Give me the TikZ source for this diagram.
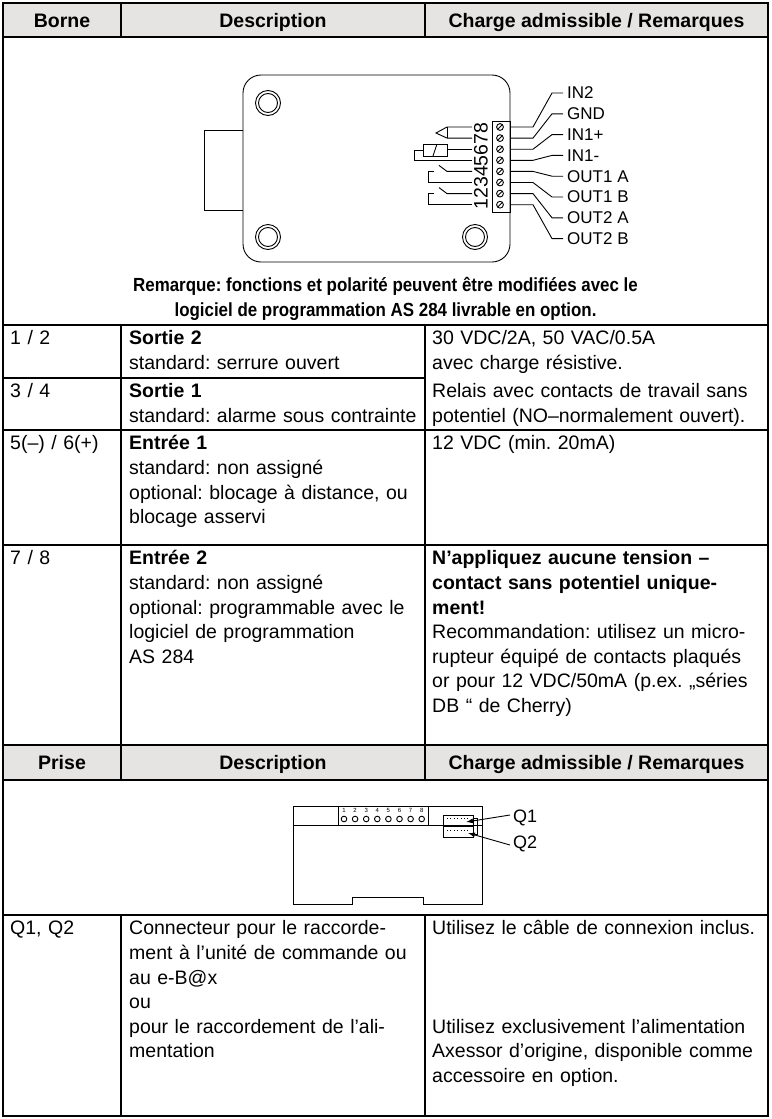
\documentclass[tikz,border=0pt]{standalone}
\usepackage{fontspec}
\setmainfont{Liberation Sans}
\usepackage{xcolor}
\usetikzlibrary{positioning, arrows.meta}
\definecolor{headgray}{RGB}{230,228,226}
\frenchspacing

\begin{document}
\begin{tikzpicture}[x=1pt, y=-1pt,
  gridline/.style={line width=2.6pt},
  thinline/.style={line width=0.9pt},
  celltext/.style={anchor=north west, inner sep=0pt, align=left, text width=#1, yshift=-2.5pt,
    font=\fontsize{19.5}{24.6}\selectfont, execute at begin node=\strut},
  celltext/.default=300pt,
  headtext/.style={anchor=base, inner sep=0pt, font=\fontsize{19.5}{24}\selectfont\bfseries},
  pinlabel/.style={anchor=west, inner sep=0pt, font=\fontsize{17}{20}\selectfont},
  qlabel/.style={anchor=west, inner sep=0pt, font=\fontsize{18}{20}\selectfont},
]
\useasboundingbox (0,0) rectangle (771,1119);

% Header rows
\fill[headgray] (3,3) rectangle (768,37);
\fill[headgray] (3,745) rectangle (768,780);
\node[headtext] (hborne) at (62,27) {Borne};
\node[headtext] (hdesc) at (273,27) {Description};
\node[headtext] (hcharge) at (596.5,27) {Charge admissible / Remarques};
\node[headtext] (hprise) at (62,769.5) {Prise};
\node[headtext] (hdesc2) at (273,769.5) {Description};
\node[headtext] (hcharge2) at (596.5,769.5) {Charge admissible / Remarques};

% Grid
\draw[gridline] (3,3) rectangle (768,1116);
\foreach \y in {37,325,430,545,745,780,915}
  \draw[gridline] (3,\y) -- (768,\y);
\draw[gridline] (3,378) -- (425,378);
\foreach \x in {121,425} {
  \draw[gridline] (\x,3) -- (\x,37);
  \draw[gridline] (\x,325) -- (\x,780);
  \draw[gridline] (\x,915) -- (\x,1116);
}

% Lock body
\draw[thinline, rounded corners=18pt] (243,75) rectangle (510,262);
\draw[thinline] (243,130) -- (204,130) -- (204,210) -- (243,210);
\foreach \p in {(268,103),(268,237),(475,237)}
  \draw[thinline] \p circle (12.5) \p circle (9.5);
\draw[thinline] (492,121) rectangle (510,212);
\node[rotate=90, inner sep=0pt, font=\fontsize{19.5}{20}\selectfont] (nums) at (481,166) {12345678};

% Terminals and wires
\foreach \n/\txt [count=\i from 0] in {8/IN2,7/GND,6/IN1+,5/IN1-,4/OUT1 A,3/OUT1 B,2/OUT2 A,1/OUT2 B} {
  \coordinate (pin\n) at (500,127+11.1*\i);
  \draw[thinline] (pin\n) circle (3.4);
  \draw[thinline] (pin\n) ++(-2.3,2.3) -- ++(4.6,-4.6);
  \node[pinlabel] (lbl\n) at (567,93+20.8*\i) {\txt};
  \draw[thinline] (510,127+11.1*\i) -- (533,127+11.1*\i) -- ([xshift=-15pt]lbl\n.west) -- ([xshift=-4pt]lbl\n.west);
}

% Symbols
\draw[thinline] (472,127.0) -- (447,127.0) -- (436,133) -- (447,138.1) -- (472,138.1);
\draw[thinline] (447,127.0) -- (447,138.1);
\draw[thinline] (423,144) rectangle (447,156);
\draw[thinline] (433,156) -- (437,144);
\draw[thinline] (472,149.2) -- (447,149.2);
\draw[thinline] (423,150) -- (414,150) -- (414,160.3) -- (472,160.3);
\foreach \t in {171.4,193.6} {
  \draw[thinline] (472,\t) -- (447,\t) -- (439,\t-6);
  \draw[thinline] (434,\t) -- (428,\t) -- (428,\t+11.1) -- (472,\t+11.1);
}

% Remark
\node[inner sep=0pt, align=center, anchor=north, font=\fontsize{19}{25}\selectfont\bfseries\addfontfeature{FakeStretch=0.89},
  execute at begin node=\strut] (remark) at (385.5,277)
  {Remarque: fonctions et polarité peuvent être modifiées avec le\\logiciel de programmation AS 284 livrable en option.};

% Rows 1/2 and 3/4
\node[celltext] (b12) at (10,325) {1 / 2};
\node[celltext] (d12) at (129,325) {\textbf{Sortie 2}\\standard: serrure ouvert};
\node[celltext=340pt] (c12) at (432,325) {30 VDC/2A, 50 VAC/0.5A\\avec charge résistive.};
\node[celltext] (b34) at (10,378) {3 / 4};
\node[celltext] (d34) at (129,378) {\textbf{Sortie 1}\\standard: alarme sous contrainte};
\node[celltext=340pt] (c34) at (432,378) {Relais avec contacts de travail sans\\potentiel (NO–normalement ouvert).};

% Row 5/6
\node[celltext] (b56) at (10,430) {5(–) / 6(+)};
\node[celltext] (d56) at (129,430) {\textbf{Entrée 1}\\standard: non assigné\\optional: blocage à distance, ou\\blocage asservi};
\node[celltext=340pt] (c56) at (432,430) {12 VDC (min. 20mA)};

% Row 7/8
\node[celltext] (b78) at (10,545) {7 / 8};
\node[celltext] (d78) at (129,545) {\textbf{Entrée 2}\\standard: non assigné\\optional: programmable avec le\\logiciel de programmation\\AS 284};
\node[celltext=340pt] (c78) at (432,545) {\textbf{N’appliquez aucune tension –}\\\textbf{contact sans potentiel unique-}\\\textbf{ment!}\\Recommandation: utilisez un micro-\\rupteur équipé de contacts plaqués\\or pour 12 VDC/50mA (p.ex. „séries\\DB “ de Cherry)};

% Control unit
\draw[thinline] (293,806) -- (482,806) -- (482,904) -- (423,904) -- (423,897) -- (352,897) -- (352,904) -- (293,904) -- cycle;
\draw[thinline] (293,825) -- (482,825);
\draw[thinline] (338,806) rectangle (428,825);
\foreach \i in {1,...,8} {
  \node[inner sep=0pt, font=\fontsize{6}{6}\selectfont] (tn\i) at (344+11.1*\i-11.1,810) {\i};
  \draw[thinline] (344+11.1*\i-11.1,819) circle (2.8);
}
\draw[thinline] (443,815) rectangle (473,825);
\draw[thinline] (443,826) rectangle (473,837);
\draw[thinline] (473,818) rectangle (477,834);
\draw[thinline, dash pattern=on 0.8pt off 2.6pt] (447,818) -- (470,818);
\draw[thinline, dash pattern=on 0.8pt off 2.6pt] (447,830) -- (470,830);
\node[qlabel] (q1) at (513,818) {Q1};
\node[qlabel] (q2) at (513,844) {Q2};
\coordinate (q1tip) at (466,822);
\coordinate (q2tip) at (468,833);
\draw[thinline, -{Latex[length=7pt, width=5pt]}] ([xshift=-3pt, yshift=3pt]q1.west) -- (q1tip);
\draw[thinline, -{Latex[length=7pt, width=5pt]}] ([xshift=-3pt, yshift=-1pt]q2.west) -- (q2tip);

% Row Q1, Q2
\node[celltext] (bq) at (10,915) {Q1, Q2};
\node[celltext] (dq) at (129,915) {Connecteur pour le raccorde-\\ment à l’unité de commande ou\\au e-B@x\\ou\\pour le raccordement de l’ali-\\mentation};
\node[celltext=340pt] (cq) at (432,915) {Utilisez le câble de connexion inclus.\\[73.8pt]Utilisez exclusivement l’alimentation\\Axessor d’origine, disponible comme\\accessoire en option.};
\end{tikzpicture}
\end{document}
